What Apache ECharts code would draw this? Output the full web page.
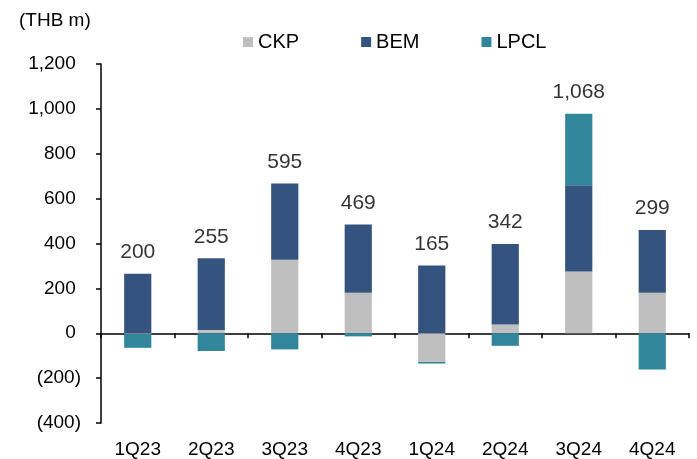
<!DOCTYPE html>
<html>
<head>
<meta charset="utf-8">
<script src="https://cdn.jsdelivr.net/npm/echarts@6/dist/echarts.min.js"></script>
<style>
  html, body { margin: 0; padding: 0; background: #fff; }
  #main { width: 697px; height: 459px; }
</style>
</head>
<body>
<div id="main"></div>
<script>
// quarters and the three pieces of each bar (THB m)
var quarters = ['1Q23', '2Q23', '3Q23', '4Q23', '1Q24', '2Q24', '3Q24', '4Q24'];
var ckp = [-3, 14, 328, 180, -128, 39, 275, 180];
var bem = [265, 320, 339, 305, 302, 359, 385, 280];
var lpcl = [-62, -79, -72, -14, -7, -56, 318, -162];
var totals = [200, 255, 595, 469, 165, 342, 1068, 299]; // labels printed above the bars

var font = "'Liberation Sans', Arial, sans-serif";

function fmt(v) {
  var s = Math.abs(v).toLocaleString('en-US');
  return v < 0 ? '(' + s + ')' : s + ' ';
}

// top of each stack = sum of the positive pieces, used to park the total label
var tops = [];
for (var i = 0; i < quarters.length; i++) {
  var t = 0;
  [ckp, bem, lpcl].forEach(function (arr) { if (arr[i] > 0) t += arr[i]; });
  tops.push(t);
}

var chart = echarts.init(document.getElementById('main'));

chart.setOption({
  animation: false,
  textStyle: { fontFamily: font },
  graphic: [{
    type: 'text',
    left: 19,
    top: 11,
    style: { text: '(THB m)', font: '19px ' + font, fill: '#000' }
  }],
  legend: {
    left: 238,
    top: 27,
    itemWidth: 10,
    itemHeight: 10,
    itemGap: 62,
    icon: 'rect',
    textStyle: { fontSize: 20, color: '#000' },
    data: ['CKP', 'BEM', 'LPCL']
  },
  grid: { left: 101, right: 8, top: 64, bottom: 36 },
  xAxis: [
    {
      type: 'category',
      data: quarters,
      axisLine: { onZero: true, lineStyle: { color: '#000', width: 1.5 } },
      axisTick: { show: true, length: 5, lineStyle: { color: '#000', width: 1.5 } },
      axisLabel: { show: false }
    },
    {
      type: 'category',
      data: quarters,
      position: 'bottom',
      axisLine: { show: false, onZero: false },
      axisTick: { show: false },
      axisLabel: { margin: 17, fontSize: 19, color: '#000', fontFamily: font }
    }
  ],
  yAxis: {
    type: 'value',
    min: -400,
    max: 1200,
    interval: 200,
    splitLine: { show: false },
    axisLine: { show: true, lineStyle: { color: '#000', width: 1.5 } },
    axisTick: { show: true, length: 5, lineStyle: { color: '#000', width: 1.5 } },
    axisLabel: { margin: 20, fontSize: 19, color: '#000', fontFamily: font, formatter: fmt }
  },
  series: [
    {
      name: 'CKP', type: 'bar', stack: 'all', data: ckp, barWidth: '37%',
      itemStyle: { color: '#BFBFBF' }
    },
    {
      name: 'BEM', type: 'bar', stack: 'all', data: bem,
      itemStyle: { color: '#35537F' }
    },
    {
      name: 'LPCL', type: 'bar', stack: 'all', data: lpcl,
      itemStyle: { color: '#31869B' }
    },
    {
      name: 'total', type: 'scatter', symbolSize: 0, silent: true,
      data: tops.map(function (v, i) { return [i, v]; }),
      label: {
        show: true, position: 'top', distance: 11,
        fontSize: 21, color: '#000', fontFamily: font,
        formatter: function (p) { return totals[p.dataIndex].toLocaleString('en-US'); }
      }
    }
  ]
});
</script>
</body>
</html>
